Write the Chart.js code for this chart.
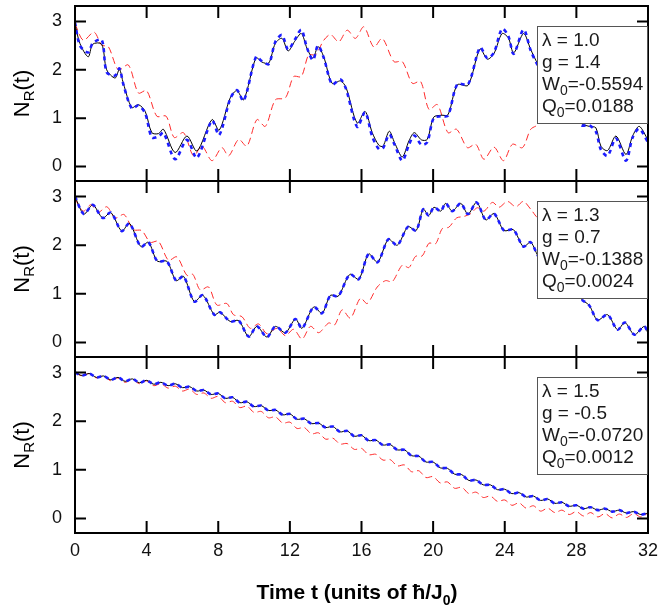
<!DOCTYPE html>
<html>
<head>
<meta charset="utf-8">
<script src="https://cdn.jsdelivr.net/npm/chart.js@4.4.0/dist/chart.umd.min.js"></script>
<style>
  html, body { margin: 0; padding: 0; background: #fff; }
  #wrap { position: relative; width: 659px; height: 610px; }
  canvas { position: absolute; left: 0; }
</style>
</head>
<body>
<div id="wrap">
  <canvas id="c1" width="659" height="190" style="top:0px"></canvas>
  <canvas id="c2" width="659" height="195" style="top:172px"></canvas>
  <canvas id="c3" width="659" height="262" style="top:348px"></canvas>
</div>
<script>
// ---- axis ticks ----
const xTickValues = [0, 4, 8, 12, 16, 20, 24, 28, 32];
const yTickValues = [0, 1, 2, 3];

// ---- legend box texts, one entry per panel ----
const lambdaVals = ['1.0', '1.3', '1.5'];
const gVals = ['1.4', '0.7', '-0.5'];
const w0Vals = ['-0.5594', '-0.1388', '-0.0720'];
const q0Vals = ['0.0188', '0.0024', '0.0012'];

// ---- panel 1 (lambda = 1.0) ----
const t1 = [0, 0.28, 0.74, 0.99, 1.49, 1.77, 2.24, 2.48, 2.70, 3.17, 3.54, 3.92, 4.29, 4.66, 4.94,
  5.59, 6.25, 6.81, 7.65, 8.05, 8.67, 9.04, 9.42, 10.11, 10.44, 10.82, 11.19, 11.56, 11.90, 12.27,
  12.64, 12.96, 13.29, 13.57, 13.89, 14.36, 14.83, 15.14, 15.76, 16.20, 16.60, 16.97, 17.20, 17.55, 17.85,
  18.28, 18.65, 18.95, 19.35, 19.67, 20.03, 20.45, 20.83, 21.35, 21.95, 22.62, 23.03, 23.40, 23.85, 24.20,
  24.50, 25.05, 25.45, 25.83, 26.30, 26.80, 27.30, 27.80, 28.25, 28.72, 29.09, 29.37, 29.74, 30.21, 30.77,
  31.14, 31.51, 32.00];
const v1Black = [2.95, 2.54, 2.27, 2.53, 2.53, 2.00, 1.83, 2.01, 1.72, 1.22, 1.28, 1.14, 0.70, 0.68, 0.77,
  0.29, 0.63, 0.32, 0.97, 0.75, 1.42, 1.57, 1.38, 2.25, 2.16, 2.14, 2.55, 2.65, 2.39, 2.59,
  2.75, 2.44, 2.24, 2.48, 2.27, 1.72, 1.77, 1.63, 0.90, 1.14, 0.70, 0.44, 0.42, 0.73, 0.49,
  0.20, 0.53, 0.70, 0.55, 0.56, 1.02, 1.06, 1.07, 1.69, 1.68, 2.43, 2.22, 2.34, 2.75, 2.66,
  2.35, 2.75, 2.42, 2.13, 1.85, 1.95, 1.45, 1.38, 0.90, 0.83, 0.80, 0.42, 0.33, 0.63, 0.25,
  0.63, 0.83, 0.55];
const v1Blue = [2.98, 2.50, 2.36, 2.55, 2.62, 1.95, 1.88, 2.03, 1.70, 1.20, 1.26, 1.10, 0.60, 0.62, 0.70,
  0.15, 0.55, 0.18, 0.95, 0.65, 1.40, 1.58, 1.36, 2.27, 2.18, 2.12, 2.58, 2.72, 2.42, 2.62,
  2.83, 2.45, 2.20, 2.50, 2.25, 1.70, 1.80, 1.60, 0.82, 1.12, 0.62, 0.36, 0.38, 0.66, 0.45,
  0.12, 0.45, 0.64, 0.45, 0.50, 1.00, 1.04, 1.05, 1.70, 1.70, 2.46, 2.24, 2.36, 2.85, 2.70,
  2.33, 2.83, 2.40, 2.10, 1.82, 1.97, 1.42, 1.36, 0.86, 0.85, 0.72, 0.35, 0.22, 0.58, 0.12,
  0.60, 0.78, 0.50];
const t1Red = [0, 0.47, 1.06, 1.49, 1.86, 2.42, 2.98, 3.54, 4.00, 4.57, 5.09, 5.54, 6.06, 6.62, 7.09,
  7.65, 8.20, 8.58, 9.14, 9.60, 10.16, 10.63, 11.19, 11.75, 12.21, 12.64, 13.05, 13.43, 13.89, 14.27,
  14.73, 15.20, 15.66, 16.13, 16.69, 17.16, 17.81, 18.28, 18.84, 19.30, 19.77, 20.24, 20.83, 21.31, 21.91,
  22.38, 22.84, 23.40, 23.93, 24.43, 24.99, 25.45, 25.88, 26.44, 26.91, 27.47, 28.03, 28.49, 28.92, 29.33,
  29.71, 30.17, 30.55, 31.01, 31.48, 32.00];
const v1Red = [2.95, 2.61, 2.78, 2.51, 2.48, 2.00, 2.10, 1.52, 1.57, 1.04, 1.04, 0.60, 0.70, 0.22, 0.42,
  0.12, 0.39, 0.22, 0.56, 0.42, 0.97, 0.83, 1.38, 1.42, 1.86, 1.86, 2.31, 2.31, 2.61, 2.73,
  2.58, 2.82, 2.65, 2.89, 2.47, 2.65, 2.17, 2.17, 1.72, 1.76, 1.18, 1.28, 0.70, 0.77, 0.39,
  0.46, 0.15, 0.40, 0.12, 0.46, 0.39, 0.77, 0.87, 1.15, 1.05, 1.45, 1.48, 1.86, 1.86, 2.31,
  2.31, 2.61, 2.73, 2.58, 2.82, 2.68];

// ---- panel 2 (lambda = 1.3) ----
const t2 = [0, 0.50, 0.99, 1.55, 2.00, 2.61, 3.04, 3.68, 4.10, 4.60, 5.13, 5.65, 6.06, 6.66, 7.14,
  7.78, 8.10, 8.67, 9.14, 9.70, 10.16, 10.72, 11.19, 11.75, 12.31, 12.68, 13.33, 13.80, 14.27, 14.70,
  15.35, 15.85, 16.40, 16.90, 17.50, 18.00, 18.60, 19.05, 19.45, 19.75, 20.05, 20.42, 20.70, 21.07, 21.54,
  21.95, 22.43, 22.94, 23.40, 23.96, 24.48, 25.04, 25.45, 25.95, 26.50, 27.05, 27.60, 28.20, 28.72, 29.18,
  29.74, 30.30, 30.71, 31.24, 31.79, 32.00];
const v2Black = [3.00, 2.64, 2.83, 2.56, 2.67, 2.29, 2.45, 1.97, 2.06, 1.67, 1.67, 1.27, 1.36, 0.84, 0.97,
  0.57, 0.62, 0.43, 0.45, 0.12, 0.33, 0.11, 0.33, 0.20, 0.48, 0.29, 0.73, 0.60, 0.97, 0.95,
  1.40, 1.30, 1.82, 1.65, 2.12, 2.00, 2.38, 2.30, 2.74, 2.61, 2.78, 2.70, 2.86, 2.70, 2.86,
  2.64, 2.88, 2.52, 2.65, 2.30, 2.32, 1.97, 2.06, 1.74, 1.76, 1.40, 1.38, 0.92, 0.76, 0.46,
  0.57, 0.26, 0.41, 0.16, 0.33, 0.19];
// the dashed blue curve sits on the solid one to within a pixel here
const v2Blue = v2Black;
const t2Red = [0, 0.47, 0.88, 1.31, 1.78, 2.24, 2.74, 3.26, 3.73, 4.20, 4.66, 5.22, 5.69, 6.25, 6.58,
  6.99, 7.46, 7.92, 8.48, 8.85, 9.32, 9.79, 10.25, 10.72, 11.28, 11.75, 12.21, 12.68, 13.15, 13.61,
  14.17, 14.50, 14.92, 15.38, 15.94, 16.32, 16.88, 17.34, 17.72, 18.28, 18.65, 19.02, 19.39, 19.77, 20.14,
  20.51, 20.88, 21.31, 21.72, 22.10, 22.47, 22.84, 23.31, 23.68, 24.15, 24.62, 25.04, 25.45, 25.90, 26.40,
  26.90, 27.40, 27.90, 28.40, 28.90, 29.40, 29.90, 30.40, 30.90, 31.40, 32.00];
const v2Red = [2.95, 2.70, 2.83, 2.68, 2.79, 2.56, 2.63, 2.32, 2.30, 2.06, 2.08, 1.69, 1.76, 1.38, 1.40,
  1.08, 1.14, 0.77, 0.80, 0.57, 0.53, 0.29, 0.38, 0.18, 0.29, 0.14, 0.27, 0.07, 0.33, 0.20,
  0.40, 0.36, 0.67, 0.50, 0.91, 0.80, 1.14, 1.27, 1.25, 1.59, 1.54, 1.77, 1.78, 2.04, 2.03,
  2.34, 2.37, 2.56, 2.59, 2.65, 2.77, 2.70, 2.88, 2.78, 2.90, 2.79, 2.90, 2.74, 2.55, 2.60,
  2.30, 2.34, 2.02, 2.05, 1.74, 1.76, 1.46, 1.48, 1.20, 1.22, 0.98];

// ---- panel 3 (lambda = 1.5) ----
const t3 = [0, 0.4, 0.8, 1.2, 1.6, 2.0, 2.4, 2.8, 3.2, 3.6, 4.0, 4.4, 4.8, 5.2, 5.6, 6.0, 6.4, 6.8, 7.2, 7.6,
  8.0, 8.4, 8.8, 9.2, 9.6, 10.0, 10.4, 10.8, 11.2, 11.6, 12.0, 12.4, 12.8, 13.2, 13.6, 14.0, 14.4, 14.8, 15.2, 15.6,
  16.0, 16.4, 16.8, 17.2, 17.6, 18.0, 18.4, 18.8, 19.2, 19.6, 20.0, 20.4, 20.8, 21.2, 21.6, 22.0, 22.4, 22.8, 23.2, 23.6,
  24.0, 24.4, 24.8, 25.2, 25.6, 26.0, 26.4, 26.8, 27.2, 27.6, 28.0, 28.4, 28.8, 29.2, 29.6, 30.0, 30.4, 30.8, 31.2, 31.6,
  32.0];
const v3Black = [3.00, 2.94, 2.98, 2.90, 2.93, 2.85, 2.90, 2.82, 2.87, 2.79, 2.84, 2.76, 2.80, 2.73, 2.77, 2.69, 2.71, 2.62, 2.64, 2.55,
  2.57, 2.47, 2.49, 2.38, 2.40, 2.30, 2.32, 2.22, 2.23, 2.13, 2.15, 2.04, 2.05, 1.95, 1.96, 1.87, 1.89, 1.78, 1.80, 1.69,
  1.71, 1.60, 1.61, 1.51, 1.52, 1.41, 1.41, 1.29, 1.28, 1.16, 1.16, 1.04, 1.03, 0.91, 0.90, 0.78, 0.79, 0.69, 0.69, 0.59,
  0.60, 0.51, 0.53, 0.44, 0.46, 0.37, 0.40, 0.31, 0.33, 0.25, 0.27, 0.20, 0.23, 0.17, 0.20, 0.14, 0.17, 0.11, 0.14, 0.08,
  0.11];
const v3Blue = v3Black;
const v3Red = [3.00, 2.93, 2.98, 2.89, 2.93, 2.83, 2.89, 2.80, 2.86, 2.77, 2.83, 2.73, 2.77, 2.68, 2.72, 2.62, 2.66, 2.55, 2.58, 2.47,
  2.51, 2.38, 2.41, 2.28, 2.31, 2.18, 2.20, 2.07, 2.09, 1.96, 1.98, 1.85, 1.87, 1.74, 1.76, 1.63, 1.65, 1.53, 1.54, 1.42,
  1.44, 1.31, 1.32, 1.20, 1.21, 1.08, 1.10, 0.96, 0.98, 0.84, 0.86, 0.73, 0.75, 0.62, 0.64, 0.51, 0.54, 0.43, 0.46, 0.35,
  0.38, 0.27, 0.32, 0.21, 0.26, 0.15, 0.21, 0.12, 0.17, 0.08, 0.14, 0.05, 0.12, 0.03, 0.10, 0.01, 0.09, 0.02, 0.10, 0.03,
  0.11];

const FONT = "'Liberation Sans', Arial, Helvetica, sans-serif";

function pts(ts, vs) {
  return ts.map((t, i) => ({ x: t, y: vs[i] }));
}

// draws a run of [text, size, dy, bold] pieces starting at x
function drawRuns(ctx, runs, x, y) {
  runs.forEach(([txt, size, dy, bold]) => {
    ctx.font = (bold ? 'bold ' : '') + size + 'px ' + FONT;
    ctx.fillText(txt, x, y + dy);
    x += ctx.measureText(txt).width;
  });
}
function runsWidth(ctx, runs) {
  let w = 0;
  runs.forEach(([txt, size, dy, bold]) => {
    ctx.font = (bold ? 'bold ' : '') + size + 'px ' + FONT;
    w += ctx.measureText(txt).width;
  });
  return w;
}

function panelPlugin(k, withXTitle) {
  return {
    id: 'panel' + k,
    afterDatasetsDraw(chart) {
      const { ctx, chartArea: a, scales: { x, y } } = chart;
      ctx.save();
      // frame
      ctx.strokeStyle = '#000';
      ctx.lineWidth = 2;
      ctx.strokeRect(a.left, a.top, a.right - a.left, a.bottom - a.top);
      // inward tick marks on all four sides
      ctx.beginPath();
      xTickValues.forEach(v => {
        const px = x.getPixelForValue(v);
        ctx.moveTo(px, a.top); ctx.lineTo(px, a.top + 12);
        ctx.moveTo(px, a.bottom); ctx.lineTo(px, a.bottom - 12);
      });
      yTickValues.forEach(v => {
        const py = y.getPixelForValue(v);
        ctx.moveTo(a.left, py); ctx.lineTo(a.left + 11, py);
        ctx.moveTo(a.right, py); ctx.lineTo(a.right - 11, py);
      });
      ctx.stroke();

      // parameter box
      const bx = a.right - 111, by = a.top + 20, bw = 110, bh = 97;
      ctx.fillStyle = '#fff';
      ctx.fillRect(bx, by, bw, bh);
      ctx.strokeStyle = '#555';
      ctx.lineWidth = 1;
      ctx.strokeRect(bx + 0.5, by + 0.5, bw, bh);
      ctx.fillStyle = '#1a1a1a';
      ctx.textBaseline = 'alphabetic';
      ctx.textAlign = 'left';
      const tx = bx + 5;
      drawRuns(ctx, [['\u03bb = ' + lambdaVals[k], 19, 0]], tx, by + 19.5);
      drawRuns(ctx, [['g = ' + gVals[k], 19, 0]], tx, by + 41.5);
      drawRuns(ctx, [['W', 19, 0], ['0', 14, 5], ['=' + w0Vals[k], 19, 0]], tx, by + 63.5);
      drawRuns(ctx, [['Q', 19, 0], ['0', 14, 5], ['=' + q0Vals[k], 19, 0]], tx, by + 85.5);
      ctx.restore();
    },
    afterDraw(chart) {
      const { ctx, chartArea: a } = chart;
      ctx.save();
      ctx.fillStyle = '#000';
      ctx.textBaseline = 'alphabetic';
      ctx.textAlign = 'left';
      // y title N_R(t), rotated
      const yRuns = [['N', 22, 0], ['R', 15, 5], ['(t)', 22, 0]];
      ctx.translate(29, (a.top + a.bottom) / 2);
      ctx.rotate(-Math.PI / 2);
      drawRuns(ctx, yRuns, -runsWidth(ctx, yRuns) / 2, 0);
      ctx.restore();
      if (withXTitle) {
        ctx.save();
        ctx.fillStyle = '#000';
        ctx.textBaseline = 'alphabetic';
        ctx.textAlign = 'left';
        const xRuns = [['Time t (units of \u0127/J', 21, 0, true], ['0', 14, 6, true], [')', 21, 0, true]];
        const w = runsWidth(ctx, xRuns);
        drawRuns(ctx, xRuns, 357 - w / 2, 251);
        ctx.restore();
      }
    }
  };
}

function makePanel(id, k, series, pad, showX) {
  const [tb, vb, tk, vk, tr, vr] = series;
  return new Chart(document.getElementById(id), {
    type: 'line',
    data: {
      datasets: [
        { data: pts(tb, vb), borderColor: '#1c1cff', borderWidth: 2.6, borderDash: [4, 4] },
        { data: pts(tk, vk), borderColor: '#000', borderWidth: 1 },
        { data: pts(tr, vr), borderColor: '#ff2a2a', borderWidth: 1, borderDash: [7, 4] }
      ]
    },
    options: {
      responsive: false,
      animation: false,
      layout: { padding: pad },
      elements: { point: { radius: 0 }, line: { tension: 0.3, fill: false } },
      plugins: { legend: { display: false }, tooltip: { enabled: false } },
      scales: {
        x: {
          type: 'linear', min: 0, max: 32, display: showX,
          afterBuildTicks: s => { s.ticks = xTickValues.map(v => ({ value: v })); },
          afterFit: s => {
            s.height = showX ? 77 : 0;
            s.paddingLeft = 0; s.paddingRight = 0;
          },
          grid: { display: false, drawTicks: false },
          border: { display: false },
          ticks: { padding: 7, maxRotation: 0, autoSkip: false, color: '#111', font: { family: FONT, size: 18 } }
        },
        y: {
          min: -0.3, max: 3.32,
          afterBuildTicks: s => { s.ticks = yTickValues.map(v => ({ value: v })); },
          afterFit: s => {
            s.width = 75;
            s.paddingTop = 0; s.paddingBottom = 0;
          },
          grid: { display: false, drawTicks: false },
          border: { display: false },
          ticks: { padding: 13, color: '#111', font: { family: FONT, size: 18 } }
        }
      }
    },
    plugins: [panelPlugin(k, showX)]
  });
}

makePanel('c1', 0, [t1, v1Blue, t1, v1Black, t1Red, v1Red], { left: 0, right: 11, top: 6, bottom: 9 }, false);
makePanel('c2', 1, [t2, v2Blue, t2, v2Black, t2Red, v2Red], { left: 0, right: 11, top: 9, bottom: 10 }, false);
makePanel('c3', 2, [t3, v3Blue, t3, v3Black, t3, v3Red], { left: 0, right: 11, top: 9, bottom: 0 }, true);
</script>
</body>
</html>
